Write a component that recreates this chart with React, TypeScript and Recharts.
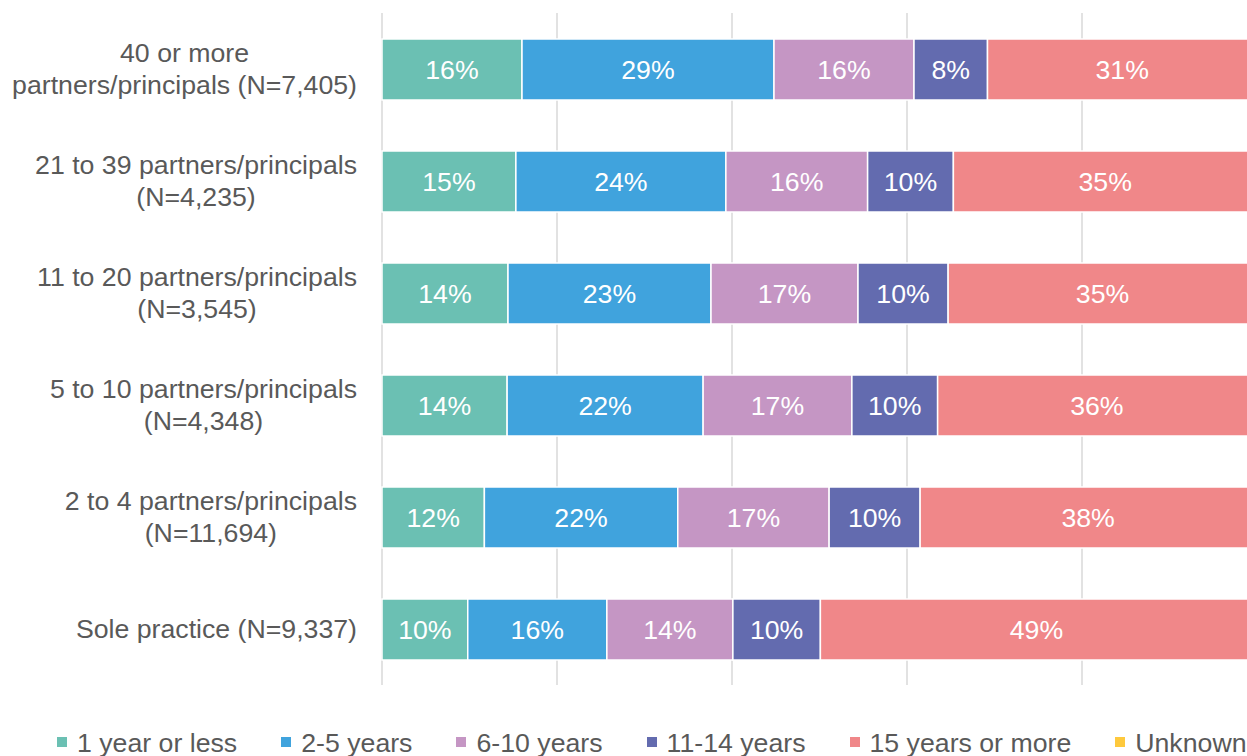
import { BarChart, Bar, XAxis, YAxis, CartesianGrid, LabelList } from "recharts";

const categoryLines = [
  ["40 or more", "partners/principals (N=7,405)"],
  ["21 to 39 partners/principals", "(N=4,235)"],
  ["11 to 20 partners/principals", "(N=3,545)"],
  ["5 to 10 partners/principals", "(N=4,348)"],
  ["2 to 4 partners/principals", "(N=11,694)"],
  ["Sole practice (N=9,337)"],
];

const oneYearOrLess = [16.0, 15.3, 14.4, 14.3, 11.7, 9.8];
const twoToFiveYears = [28.8, 24.0, 23.2, 22.4, 22.1, 15.9];
const sixToTenYears = [16.0, 16.2, 16.8, 17.0, 17.3, 14.4];
const elevenToFourteenYears = [8.4, 9.8, 10.3, 9.8, 10.4, 10.0];
const fifteenOrMore = [30.8, 34.7, 35.3, 36.4, 38.4, 49.4];
const unknown = [0, 0, 0, 0.1, 0.1, 0.5];

const xTicks = [0, 20, 40, 60, 80, 100];

const series = [
  { key: "y1", name: "1 year or less", color: "#6bc0b3", values: oneYearOrLess },
  { key: "y2_5", name: "2-5 years", color: "#40a3dd", values: twoToFiveYears },
  { key: "y6_10", name: "6-10 years", color: "#c596c4", values: sixToTenYears },
  { key: "y11_14", name: "11-14 years", color: "#636baf", values: elevenToFourteenYears },
  { key: "y15", name: "15 years or more", color: "#f08789", values: fifteenOrMore },
  { key: "unk", name: "Unknown", color: "#fec93d", values: unknown },
];

const data = categoryLines.map((lines, i) => {
  const row: Record<string, number | string> = { name: lines.join("\n") };
  series.forEach((s) => {
    row[s.key] = s.values[i];
  });
  return row;
});

const FONT = "'Liberation Sans', Arial, sans-serif";
const FONT_SIZE = 26.7;
const TEXT = "#595959";

let ctx: CanvasRenderingContext2D | null = null;
function measure(text: string) {
  if (!ctx) ctx = document.createElement("canvas").getContext("2d");
  if (!ctx) return text.length * 13;
  ctx.font = `${FONT_SIZE}px 'Liberation Sans', Arial, sans-serif`;
  return ctx.measureText(text).width;
}

function CategoryTick(props: any) {
  const { y, payload } = props;
  const lines = String(payload.value).split("\n");
  const maxW = Math.max(...lines.map(measure));
  const cx = 357 - maxW / 2;
  const lh = 32;
  const startY = y - ((lines.length - 1) * lh) / 2;
  return (
    <text textAnchor="middle" fill={TEXT} fontSize={FONT_SIZE} fontFamily={FONT}>
      {lines.map((l, i) => (
        <tspan key={i} x={cx} y={startY + i * lh} dy="0.355em">
          {l}
        </tspan>
      ))}
    </text>
  );
}

export default function App() {
  return (
    <div
      style={{
        position: "absolute",
        left: 0,
        top: 0,
        width: 1247,
        height: 756,
        overflow: "hidden",
        background: "#fff",
      }}
    >
      <BarChart
        width={1280}
        height={700}
        data={data}
        layout="vertical"
        margin={{ top: 13, right: 23, bottom: 15, left: 0 }}
        barSize={61}
      >
        <CartesianGrid horizontal={false} stroke="#d9d9d9" strokeWidth={1.5} />
        <XAxis type="number" domain={[0, 100]} ticks={xTicks} hide />
        <YAxis
          type="category"
          dataKey="name"
          width={382}
          axisLine={false}
          tickLine={false}
          tick={<CategoryTick />}
          interval={0}
        />
        {series.map((s) => (
          <Bar
            key={s.key}
            dataKey={s.key}
            name={s.name}
            stackId="a"
            fill={s.color}
            stroke="#fff"
            strokeWidth={1.5}
            isAnimationActive={false}
          >
            {s.key !== "unk" && (
              <LabelList
                dataKey={s.key}
                position="center"
                fill="#fff"
                fontSize={FONT_SIZE}
                fontFamily={FONT}
                formatter={(v: any) => `${Math.round(Number(v))}%`}
              />
            )}
          </Bar>
        ))}
      </BarChart>
      <div
        style={{
          position: "absolute",
          left: 57,
          top: 727,
          height: 30,
          display: "flex",
          alignItems: "center",
          fontFamily: FONT,
          fontSize: FONT_SIZE,
          color: TEXT,
          whiteSpace: "nowrap",
        }}
      >
        {series.map((s) => (
          <div key={s.key} style={{ display: "flex", alignItems: "center", marginRight: 44 }}>
            <span
              style={{ width: 10, height: 10, background: s.color, marginRight: 10, display: "inline-block" }}
            />
            <span style={{ position: "relative", top: 1 }}>{s.name}</span>
          </div>
        ))}
      </div>
    </div>
  );
}
